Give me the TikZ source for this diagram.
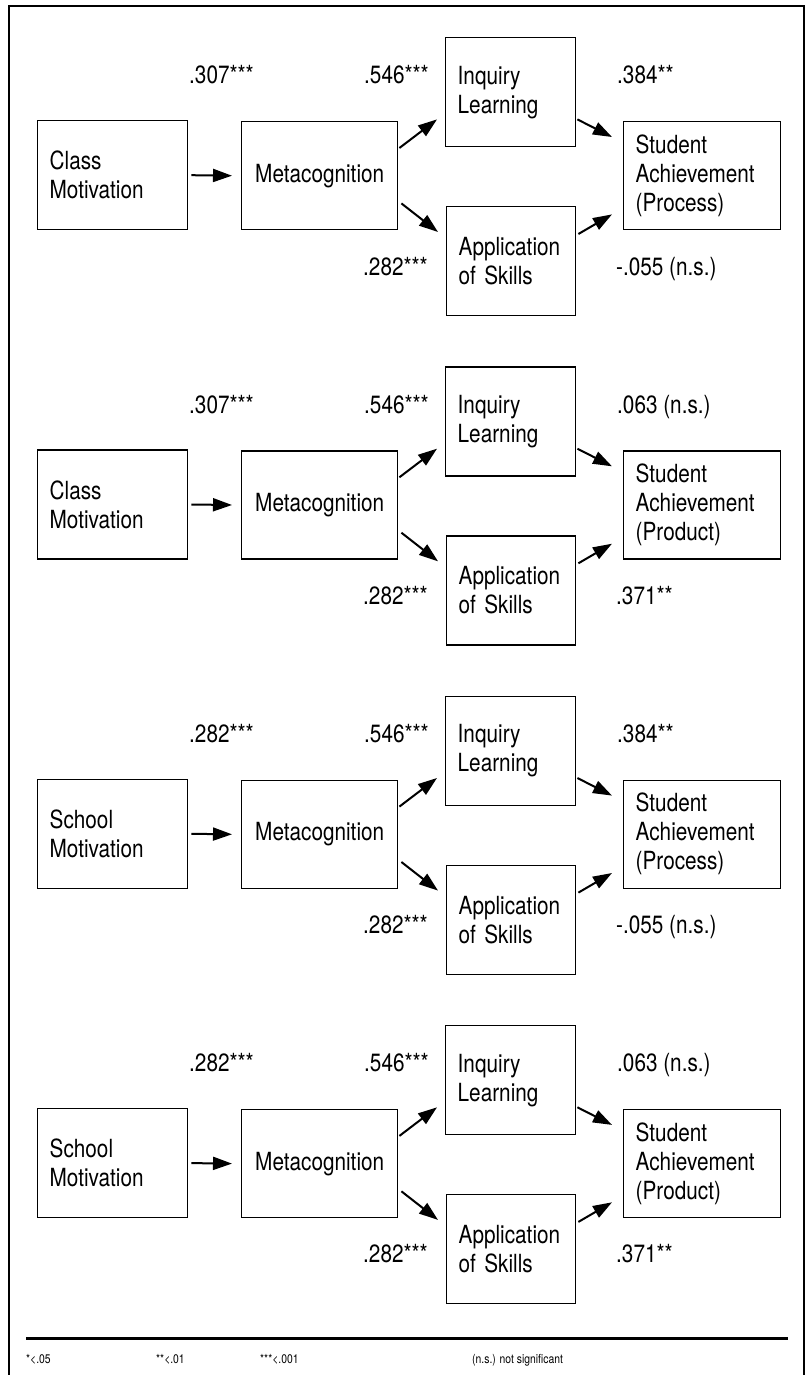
\documentclass[tikz,border=0pt]{standalone}
\usepackage{fontspec}
\setmainfont{TeX Gyre Heros}[FakeStretch=0.83]
\usetikzlibrary{arrows.meta,calc}
\begin{document}
\begin{tikzpicture}[x=1pt,y=-1pt,
  box/.style={draw=black,line width=1.4pt,inner xsep=12pt,inner ysep=0pt,anchor=north west,
    font=\fontsize{25}{29}\selectfont},
  lbl/.style={font=\fontsize{25}{29}\selectfont,inner sep=0pt,anchor=base west},
  leg/.style={font=\fontsize{12.5}{15}\selectfont,inner sep=0pt,anchor=base west},
  arr/.style={line width=2pt,-{Triangle[length=19pt,width=13pt]}}]
\useasboundingbox (0,0) rectangle (807,1375);
\coordinate (fbl) at (9,1390);
\coordinate (ftl) at (9,6);
\coordinate (ftr) at (804,6);
\coordinate (fbr) at (804,1390);
\draw[line width=2pt] (fbl) -- (ftl) -- (ftr) -- (fbr);
\foreach \p/\mot/\kind/\la/\lb/\lc/\ld/\le in {
  0/Class/Process/.307***/.546***/.384**/.282***/-.055 (n.s.),
  1/Class/Product/.307***/.546***/.063 (n.s.)/.282***/.371**,
  2/School/Process/.282***/.546***/.384**/.282***/-.055 (n.s.),
  3/School/Product/.282***/.546***/.063 (n.s.)/.282***/.371**}{
  \pgfmathsetmacro\oy{\p*329.3}
  \begin{scope}[shift={(0,\oy)}]
    \node[box,minimum width=150pt,minimum height=109pt,text width=126pt,align=left]
      (c\p) at (37,120) {\mot\\Motivation};
    \node[box,minimum width=156pt,minimum height=108pt,align=center]
      (m\p) at (241,121) {Metacognition};
    \node[box,minimum width=130pt,minimum height=109pt,text width=106pt,align=left]
      (i\p) at (445,37) {Inquiry\\Learning};
    \node[box,minimum width=129pt,minimum height=109pt,text width=105pt,align=left]
      (a\p) at (446,206) {Application\\of Skills};
    \node[box,minimum width=157pt,minimum height=108pt,text width=133pt,align=left]
      (s\p) at (623,121) {Student\\Achievement\\(\kind)};
    \draw[arr] ($(c\p.east)+(3,0)$) -- ($(m\p.west)+(-9,0)$);
    \draw[arr] ($(m\p.north east)+(1,27)$) -- ($(i\p.south west)+(-8,-28)$);
    \draw[arr] ($(m\p.south east)+(3,-27)$) -- ($(a\p.north west)+(-8,26)$);
    \draw[arr] ($(i\p.south east)+(1,-28)$) -- ($(s\p.north west)+(-11,16)$);
    \draw[arr] ($(a\p.north east)+(2,28)$) -- ($(s\p.south west)+(-11,-16)$);
    \node[lbl] (la\p) at (189,84) {\la};
    \node[lbl] (lb\p) at (364,84) {\lb};
    \node[lbl] (lc\p) at (617,84) {\lc};
    \node[lbl] (ld\p) at (363,275) {\ld};
    \node[lbl] (le\p) at (616,275) {\le};
  \end{scope}
}
\coordinate (rl) at (26,1338);
\coordinate (rr) at (788,1338);
\draw[line width=3pt] (rl) -- (rr);
\node[leg] (g1) at (26,1363) {*<.05};
\node[leg] (g2) at (156,1363) {**<.01};
\node[leg] (g3) at (260,1363) {***<.001};
\node[leg] (g4) at (472,1363) {(n.s.) not significant};
\end{tikzpicture}
\end{document}
